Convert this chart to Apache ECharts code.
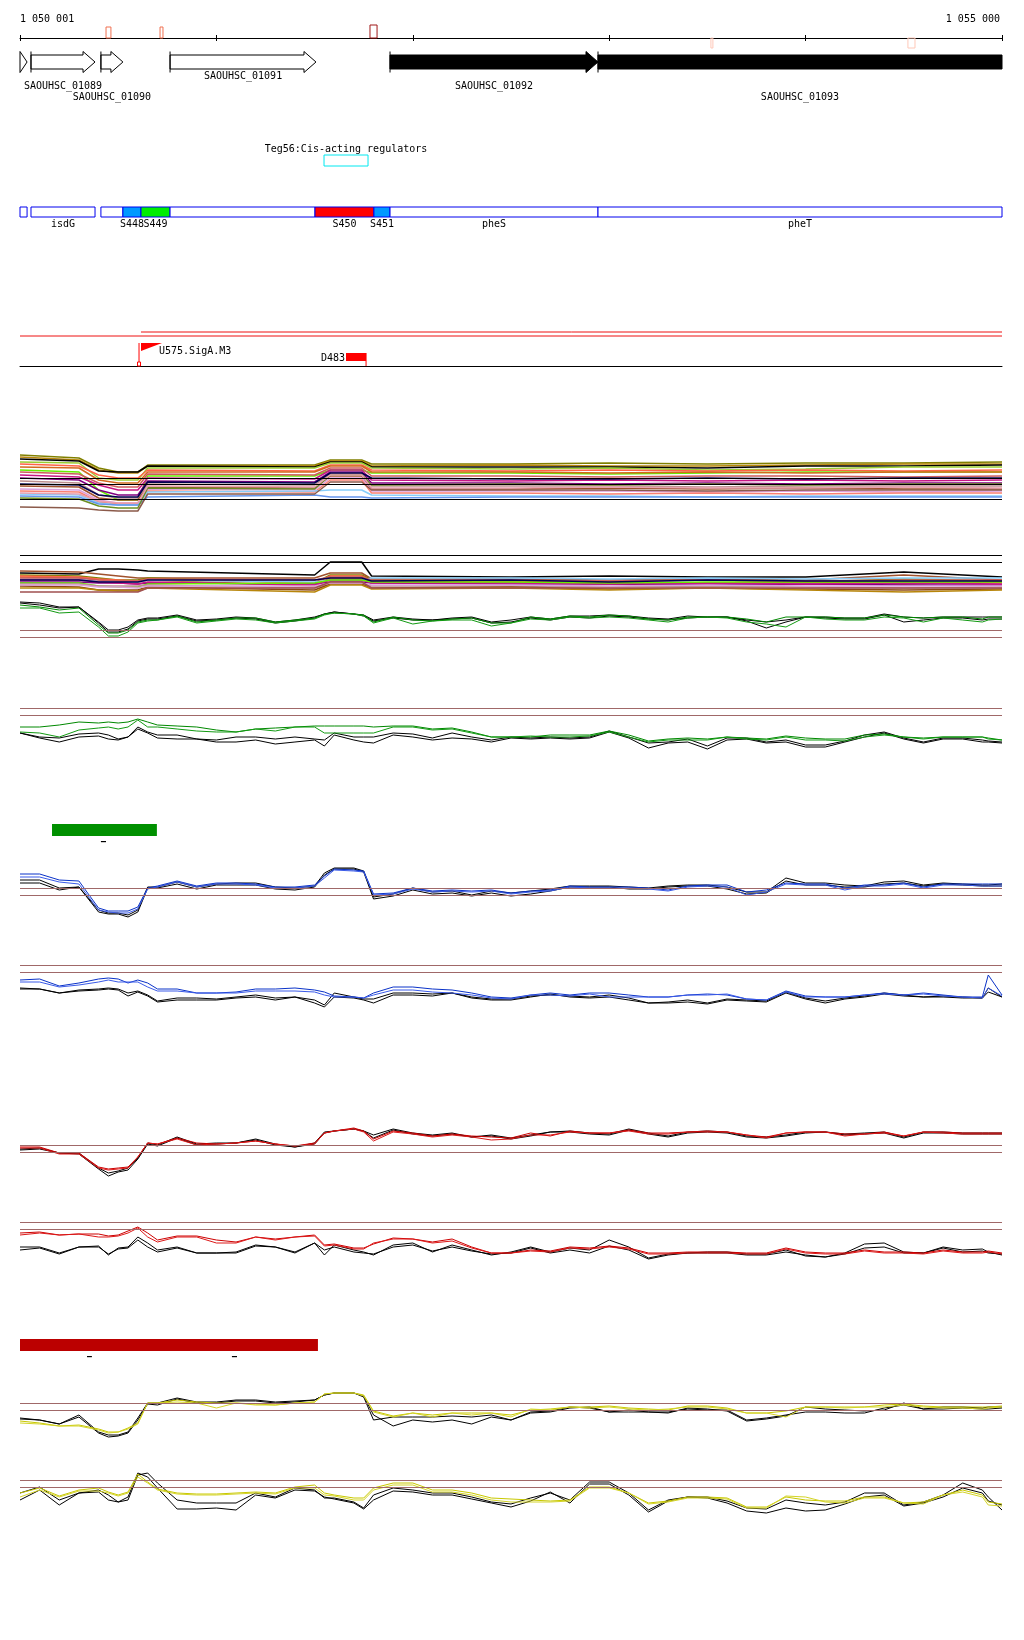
<!DOCTYPE html>
<html><head><meta charset="utf-8">
<script src="https://cdn.jsdelivr.net/npm/echarts/dist/echarts.min.js"></script>
<style>html,body{margin:0;padding:0;background:#fff}#c{width:1024px;height:1640px}</style>
</head><body><div id="c"></div>
<script>
// ---------------- DATA ----------------
const X_MIN = 1050000, X_MAX = 1055000, TICK_STEP = 1000;
const rulerLabels = ['1 050 001', '1 055 000'];

// marks on the ruler
const markStart  = [1050438, 1050713, 1051782, 1053518, 1054521];
const markEnd    = [1050463, 1050728, 1051818, 1053528, 1054557];
const markHeight = [1.1, 1.1, 1.3, -1.0, -1.0];
const markColor  = ['#f07050', '#f07050', '#a01818', '#ffc8b8', '#ffc8b8'];

// genes
const geneName   = ['', 'SAOUHSC_01089', 'SAOUHSC_01090', 'SAOUHSC_01091', 'SAOUHSC_01092', 'SAOUHSC_01093'];
const geneStart  = [1049950, 1050056, 1050412, 1050764, 1051884, 1052943];
const geneEnd    = [1050036, 1050382, 1050524, 1051507, 1052943, 1055600];
const geneFilled = [false, false, false, false, true, true];
const geneLabelRow = [0, 1, 2, 0, 1, 2];

// regulator
const regName  = ['Teg56:Cis-acting regulators'];
const regStart = [1051548];
const regEnd   = [1051772];

// features
const featStart = [1050000,1050056,1050412,1050524,1050616,1050764,1051502,1051802,1051884,1052943];
const featEnd   = [1050036,1050382,1050524,1050616,1050764,1051502,1051802,1051884,1052943,1055000];
const featLabel = ['','isdG','','S448','S449','','S450','S451','pheS','pheT'];
const featFill  = ['#ffffff','#ffffff','#ffffff','#0099ff','#00ee00','#ffffff','#ff0000','#0099ff','#ffffff','#ffffff'];

// transcription units, promoter, terminator
const tuStart = [1050616, 1050000];
const tuEnd   = [1055000, 1055000];
const tuLevel = [34, 30];
const promName = ['U575.SigA.M3'];
const promPos  = [1050606];
const promHeight = [23];
const termName  = ['D483'];
const termStart = [1051660];
const termEnd   = [1051762];
const termLow   = [5];
const termHigh  = [13];

// condition bars
const greenBarStart = [1050163], greenBarEnd = [1050697];
const greenDashStart = [1050412], greenDashEnd = [1050438];
const redBarStart = [1050000], redBarEnd = [1051517];
const redDashStart = [1050341, 1051079], redDashEnd = [1050366, 1051105];

// sample positions for profiles
const posBp = [1050000,1050100,1050200,1050300,1050400,1050450,1050500,1050550,1050600,1050650,
  1050700,1050800,1050900,1051000,1051100,1051200,1051300,1051400,1051500,1051550,
  1051600,1051700,1051750,1051800,1051900,1052000,1052100,1052200,1052300,1052400,
  1052500,1052600,1052700,1052800,1052900,1053000,1053100,1053200,1053300,1053400,
  1053500,1053600,1053700,1053800,1053900,1054000,1054100,1054200,1054300,1054400,
  1054500,1054600,1054700,1054800,1054900,1054930,1055000];
const bundlePos = [1050000,1050300,1050400,1050500,1050600,1050650,1051500,1051580,1051740,1051790,
  1052500,1053000,1053500,1054000,1054500,1055000];

// track 1 : many conditions
const t1Values = [
 [65,62,52,48,48,55,55,60,60,56,56,57,56,57,57,58],
 [63,60,50,47,47,54,54,59,59,54,55,54,54,55,56,56],
 [61,59,49,48,48,54,53,58,58,53,53,53,52,54,54,55],
 [58,57,42,40,40,52,52,57,57,52,51,52,50,51,53,53],
 [50,48,30,20,20,44,44,50,50,47,47,46,47,48,48,48],
 [56,54,45,42,42,50,49,55,55,50,49,50,49,50,49,50],
 [53,52,40,37,37,48,48,54,54,48,48,47,48,47,48,48],
 [48,46,37,33,33,46,45,52,52,44,44,43,44,44,43,44],
 [45,43,35,30,30,42,41,50,50,40,39,40,39,40,39,40],
 [42,40,30,25,25,39,38,48,48,37,37,36,37,36,37,37],
 [39,37,25,22,22,36,35,46,46,34,34,34,33,34,34,34],
 [34,33,22,20,20,33,32,44,44,31,31,32,31,32,31,31],
 [31,30,20,17,17,31,30,42,42,29,29,29,28,29,28,29],
 [29,28,18,16,16,29,28,40,40,27,27,26,27,26,27,27],
 [26,25,17,15,15,28,29,30,30,25,24,24,23,24,24,24],
 [24,23,16,15,15,23,25,23,23,22,23,23,23,23,23,23],
 [22,21,14,12,12,32,31,45,45,35,36,35,36,35,36,36],
 [13,12,10,9,9,26,26,38,38,30,30,30,29,30,30,30],
 [36,35,25,23,23,38,37,47,47,42,41,41,42,41,42,42],
 [27,26,19,17,17,34,33,45,45,32,32,33,32,32,33,32]];
const t1Colors = ['#808000','#b8860b','#000000','#9acd32','#66ee00','#ff6347','#d2691e','#cd5c5c','#c71585','#800080',
  '#bc8f8f','#a0522d','#dda0dd','#fa8072','#87cefa','#6495ed','#6b8e23','#8b5a4a','#000050','#e8a0b0'];
const t1Refs = [42, 36, 21];

// track 2a : many conditions
const t2aValues = [
 [27,26,31,31,30,29,25,38,38,24,23,24,23,23,28,23],
 [29,28,26,24,22,22,22,27,27,21,21,20,21,20,25,20],
 [25,24,22,20,20,22,17,25,25,20,19,16,17,18,21,19],
 [23,22,20,19,18,20,14,22,22,18,18,17,16,18,16,18],
 [24,23,21,20,19,21,17,24,24,19,18,18,17,19,18,17],
 [21,21,19,18,18,20,18,20,20,22,22,21,22,21,22,22],
 [18,18,17,17,16,17,16,18,18,17,16,16,15,16,15,15],
 [20,20,18,17,16,18,15,20,20,17,17,16,17,16,17,16],
 [17,17,14,13,13,16,17,20,20,18,18,17,18,18,18,18],
 [16,16,14,14,14,15,12,17,17,14,14,13,14,13,12,13],
 [14,13,10,10,10,13,10,16,16,12,13,11,12,11,10,11],
 [12,12,10,9,9,12,8,15,15,11,12,10,12,10,8,10],
 [22,22,20,19,19,21,20,23,23,20,20,19,20,19,20,20],
 [20,20,18,18,18,20,20,22,22,19,20,18,20,19,19,19],
 [15,15,13,13,12,14,14,17,17,15,15,14,15,14,14,14],
 [8,8,8,8,8,12,12,18,18,12,12,12,12,12,12,12]];
const t2aColors = ['#000000','#a0522d','#808000','#d2691e','#ff6347','#87cefa','#800080','#c71585','#66ee00','#bc8f8f',
  '#8b4513','#b8860b','#cd5c5c','#000050','#dda0dd','#a05050'];
const t2aRefs = [45, 38];

// track 2b (green)
const t2Black1 = [48,47,43,43,28,20,20,23,30,32,32,35,30,31,33,32,28,30,33,36,38,36,35,30,33,31,30,32,33,28,30,33,31,34,34,35,34,32,31,34,33,33,30,28,30,33,33,32,32,36,33,32,33,33,33,33,33];
const t2Black2 = [47,45,42,43,27,18,18,21,29,31,31,34,29,30,32,31,27,29,32,36,38,36,34,29,32,30,30,31,32,27,28,32,30,33,32,34,33,31,30,32,33,33,29,22,28,33,32,31,31,35,28,30,32,32,30,31,31];
const t2Green1 = [45,43,40,42,25,17,17,20,28,30,30,34,28,30,32,32,28,30,32,36,37,36,35,28,33,30,29,31,32,27,27,33,31,34,33,35,34,31,30,33,33,33,31,28,33,33,33,32,32,35,33,32,33,33,31,33,33];
const t2Green2 = [42,42,37,38,23,14,14,18,27,29,30,33,27,29,31,30,27,29,31,35,37,36,34,27,32,26,29,30,30,24,27,31,30,33,32,33,32,30,28,32,33,32,28,26,23,33,31,30,30,33,32,28,32,30,28,30,31];
const t2bRefs = [20, 13];

// track 3 (green)
const t3Black1 = [27,23,22,26,27,25,21,23,33,28,25,25,21,20,23,23,21,23,21,20,27,23,23,23,27,26,22,27,23,20,23,22,23,22,23,29,23,17,18,21,14,22,22,18,20,15,15,19,25,28,22,18,22,22,20,19,18];
const t3Black2 = [27,22,18,23,24,21,20,23,31,27,22,21,21,18,18,20,16,18,20,14,25,20,18,17,25,23,20,22,21,18,22,21,22,21,22,28,22,12,17,18,11,20,21,17,18,13,13,18,23,27,21,17,21,21,18,18,17];
const t3Green1 = [33,33,35,38,37,38,37,38,41,38,35,34,33,30,28,31,32,33,34,34,34,34,34,33,34,34,31,32,28,23,23,23,25,25,25,29,25,19,21,22,21,23,22,21,24,22,21,21,25,26,23,22,23,23,23,22,20];
const t3Green2 = [28,27,23,30,32,33,31,33,40,33,33,31,29,28,28,31,29,33,33,27,27,27,27,27,33,33,30,31,27,23,23,24,23,23,24,28,23,18,20,20,20,23,21,20,23,20,20,19,23,25,23,21,23,23,23,21,20];
const t3Refs = [52, 45];

// track 4 (blue)
const t4Black1 = [50,50,42,43,20,17,17,15,20,43,43,48,43,46,47,47,43,42,44,57,62,62,59,33,36,42,38,39,35,39,37,39,41,44,44,44,43,42,44,45,45,43,38,38,52,47,47,45,44,48,49,45,47,46,45,45,46];
const t4Black2 = [47,47,40,43,18,16,16,13,18,42,42,46,41,45,45,45,41,40,43,55,61,61,58,31,34,40,36,37,34,37,34,36,39,43,43,43,41,41,43,44,44,41,36,37,49,45,45,43,43,46,47,44,46,45,44,44,44];
const t4Blue1 = [56,56,50,49,22,19,19,19,23,42,44,49,44,47,47,46,43,43,45,54,61,60,59,36,37,42,39,40,39,40,37,39,40,44,43,43,43,42,40,44,45,45,38,40,47,46,46,42,45,45,47,43,46,46,46,46,46];
const t4Blue2 = [53,53,48,46,20,18,17,17,21,41,43,48,43,46,46,45,42,42,44,52,60,59,58,35,36,41,38,39,38,39,36,38,39,43,42,42,42,41,39,43,44,43,35,38,46,45,45,40,44,44,46,42,45,45,44,44,44];
const t4Refs = [42, 35];

// track 5 (blue)
const t5Black1 = [32,31,27,30,31,32,31,27,29,25,19,22,22,21,23,25,22,23,20,15,27,23,21,21,27,27,26,27,23,21,21,24,25,24,23,25,22,17,18,20,17,21,20,19,28,22,19,22,24,27,25,23,24,23,22,32,23];
const t5Black2 = [31,31,27,29,30,31,30,24,28,24,18,20,20,20,22,23,20,23,17,13,23,22,20,17,25,25,24,27,22,20,20,23,26,23,22,23,20,17,17,18,16,20,19,18,27,21,17,21,23,26,24,23,23,22,22,28,23];
const t5Blue1 = [40,41,34,37,41,42,41,37,40,37,31,31,27,27,28,31,31,32,30,28,24,23,22,27,33,33,31,30,27,23,22,25,27,25,27,27,25,23,23,25,26,25,21,20,29,24,23,23,25,27,25,27,25,23,23,45,25];
const t5Blue2 = [38,38,33,35,38,40,38,38,38,33,29,29,27,27,27,29,29,29,28,25,23,23,22,25,30,30,28,27,25,22,21,25,25,24,26,23,23,23,23,25,25,26,21,20,28,23,23,23,25,26,25,26,24,23,22,32,24];
const t5Refs = [55, 48];

// track 6 (red)
const t6Black1 = [41,42,37,37,22,17,19,22,32,47,45,53,46,47,47,51,46,43,47,58,59,61,59,55,61,57,55,57,53,55,52,55,58,59,57,56,61,57,54,58,59,58,54,53,55,58,58,56,57,58,53,58,58,57,57,57,57];
const t6Black2 = [40,41,37,36,21,14,18,20,31,46,44,52,45,46,47,50,45,43,46,57,59,61,59,52,60,56,54,56,53,54,51,54,58,58,56,55,60,56,53,57,58,57,53,52,54,57,58,55,56,57,52,57,57,56,56,56,56];
const t6Red1 = [43,43,37,37,23,21,22,23,33,47,46,52,47,46,47,49,46,44,47,57,59,62,59,51,59,57,54,56,54,53,52,57,54,59,57,57,60,57,57,58,59,58,55,53,57,58,58,56,56,58,54,58,58,57,57,57,57];
const t6Red2 = [42,42,36,36,22,20,21,22,33,47,46,51,45,46,47,49,46,44,46,57,59,61,58,49,58,56,53,55,53,50,51,55,55,58,57,57,59,56,56,58,58,58,55,52,57,58,58,54,56,57,54,58,57,56,56,56,56];
const t6Refs = [45, 38];

// track 7 (red)
const t7Black1 = [23,23,17,23,24,15,22,23,33,27,20,23,17,17,18,25,23,18,27,15,25,20,18,15,25,27,18,25,20,15,18,23,18,22,20,30,23,12,16,17,18,18,16,16,20,14,13,17,26,27,18,17,23,20,21,18,15];
const t7Black2 = [20,22,16,23,23,16,21,22,30,23,18,22,17,17,17,24,23,17,27,20,23,18,17,16,23,25,19,23,19,16,17,22,17,20,17,24,20,11,15,17,17,17,15,15,18,15,13,16,22,23,17,17,22,18,19,17,16];
const t7Red1 = [37,38,35,36,36,34,35,39,43,37,30,34,34,30,28,33,31,33,35,25,26,22,22,26,32,31,28,31,23,17,17,20,19,23,22,24,22,17,17,18,18,18,17,17,22,18,17,17,20,18,18,17,20,18,18,19,17];
const t7Red2 = [35,37,35,36,33,33,34,37,42,33,28,33,33,27,27,33,30,33,34,24,25,21,21,27,31,31,27,29,22,17,17,19,18,22,21,23,21,16,16,17,17,17,16,16,21,17,16,16,19,17,17,16,19,17,17,18,16];
const t7Refs = [48, 41];

// track 8 (yellow)
const t8Black1 = [32,30,26,35,18,15,15,18,32,47,47,52,48,48,50,50,48,49,50,55,57,57,54,35,24,30,28,30,26,33,30,38,39,43,42,38,40,38,38,41,40,40,30,32,35,38,38,37,37,42,45,41,41,42,41,41,42];
const t8Black2 = [31,30,26,33,17,13,14,17,30,46,45,51,47,47,49,49,47,48,50,55,57,57,53,30,33,33,33,34,33,35,30,37,38,42,43,38,38,38,37,42,41,39,29,31,34,43,41,40,39,40,47,41,43,43,42,43,43];
const t8Yellow1 = [29,27,24,25,21,18,18,22,27,47,47,50,48,47,47,46,45,47,48,56,57,57,55,39,34,37,35,37,37,37,35,40,41,43,43,44,42,41,40,44,44,42,37,37,39,43,43,43,43,45,46,44,43,43,43,43,44];
const t8Yellow2 = [27,26,24,24,20,17,18,21,26,47,47,48,47,42,47,45,45,47,48,56,57,57,54,38,33,37,33,37,35,37,33,41,40,43,42,43,41,40,41,43,43,41,37,37,33,43,43,42,43,43,45,43,42,42,41,42,43];
const t8Refs = [47, 40];

// track 9 (yellow)
const t9Black1 = [37,43,30,37,40,35,28,30,55,57,47,30,27,27,27,37,33,42,40,32,32,28,22,35,42,40,37,37,33,28,26,32,37,30,48,48,37,20,30,33,33,29,22,21,30,27,25,28,37,37,25,28,35,47,40,33,20];
const t9Black2 = [30,40,25,37,38,30,28,33,57,53,42,21,21,22,20,35,32,40,39,33,31,27,21,30,39,38,35,35,31,27,23,29,38,27,46,46,35,18,29,33,32,27,19,17,22,19,20,26,33,35,24,27,33,42,37,29,25];
const t9Yellow1 = [37,42,34,40,42,38,35,38,56,48,41,37,36,36,37,38,37,43,45,37,35,32,32,42,47,47,40,40,37,32,31,30,29,30,43,43,37,27,29,33,33,32,23,23,33,30,29,29,33,33,27,28,35,40,35,28,26];
const t9Yellow2 = [33,40,33,39,39,37,34,37,53,47,40,36,35,35,36,37,36,42,42,35,34,30,30,40,45,45,38,38,35,30,28,28,28,29,42,42,37,26,28,32,32,31,22,22,34,33,28,27,32,32,27,26,35,38,33,25,24];
const t9Refs = [50, 43];

// ---------------- LAYOUT / STYLE ----------------
const FONT = '10px "DejaVu Sans Mono", monospace';
const L = 20, W = 982, SPAN = 80;
const GENE_Y = 62, HEAD_LEN = 12, LABEL_ROW_Y = [76, 86, 97];
const REG_Y = 155, REG_H = 11, REG_LABEL_Y = 149;
const FEAT_Y = 207, FEAT_H = 10, FEAT_LABEL_Y = 224;
const BROWN = '#a06868';
const BLACK = '#000000';

const grids = [], xAxes = [], yAxes = [], series = [];
function addGrid(top, height, ymin, ymax, xExtra) {
  const gi = grids.length;
  grids.push({left: L, top: top, width: W, height: height});
  xAxes.push(Object.assign({gridIndex: gi, type: 'value', min: X_MIN, max: X_MAX, show: false}, xExtra || {}));
  yAxes.push({gridIndex: gi, type: 'value', min: ymin, max: ymax, show: false});
  return gi;
}
function refLines(values, color) {
  return {silent: true, symbol: ['none', 'none'], label: {show: false}, emphasis: {disabled: true},
    lineStyle: {color: color, width: 1, type: 'solid'}, data: values.map(v => ({yAxis: v})), animation: false};
}
function addTrack(bottom, xs, lines, colors, refs, refColor, lw) {
  const gi = addGrid(bottom - SPAN, SPAN, 0, SPAN);
  lines.forEach((arr, k) => {
    const s = {type: 'line', xAxisIndex: gi, yAxisIndex: gi, data: xs.map((x, j) => [x, arr[j]]),
      symbol: 'none', showSymbol: false, silent: true, animation: false,
      lineStyle: {color: colors[k], width: lw || 1}, z: 2};
    if (k === 0) s.markLine = refLines(refs, refColor);
    series.push(s);
  });
}

// ---- ruler grid ----
const rulerAxis = {show: true, position: 'bottom', interval: TICK_STEP,
  axisLine: {show: true, onZero: false, lineStyle: {color: BLACK, width: 1}},
  axisTick: {show: true, length: 3, inside: false, lineStyle: {color: BLACK, width: 1}},
  axisLabel: {show: false}, splitLine: {show: false}};
const g0 = addGrid(18, 20, 0, 2, rulerAxis);

// ruler marks
series.push({type: 'custom', xAxisIndex: g0, yAxisIndex: g0, z: 5, silent: true, animation: false,
  data: markStart.map((s, i) => [s, markEnd[i], markHeight[i]]),
  renderItem: function (params, api) {
    const a = api.coord([api.value(0), 0]), b = api.coord([api.value(1), api.value(2)]);
    return {type: 'rect', shape: {x: Math.min(a[0], b[0]), y: Math.min(a[1], b[1]), width: Math.abs(b[0] - a[0]), height: Math.abs(b[1] - a[1])},
      style: {fill: 'none', stroke: markColor[params.dataIndex], lineWidth: 1}};
  }});

// genes
series.push({type: 'custom', xAxisIndex: g0, yAxisIndex: g0, z: 5, silent: true, animation: false,
  data: geneStart.map((s, i) => [s, geneEnd[i]]),
  renderItem: function (params, api) {
    const i = params.dataIndex;
    const s = api.value(0), e = api.value(1);
    const x0 = api.coord([Math.max(s, X_MIN), 0])[0];
    const x1 = api.coord([Math.min(e, X_MAX), 0])[0];
    const cutL = s < X_MIN, cutR = e > X_MAX;
    const yc = GENE_Y, hb = 7, hh = 10.5;
    const head = cutR ? 0 : Math.min(HEAD_LEN, x1 - x0);
    const hs = x1 - head;
    let pts;
    if (head > 0 && hs <= x0 + 0.5) pts = [[x0, yc - hh], [x1, yc], [x0, yc + hh]];
    else if (head === 0) pts = [[x0, yc - hb], [x1, yc - hb], [x1, yc + hb], [x0, yc + hb]];
    else pts = [[x0, yc - hb], [hs, yc - hb], [hs, yc - hh], [x1, yc], [hs, yc + hh], [hs, yc + hb], [x0, yc + hb]];
    const filled = geneFilled[i];
    const ch = [{type: 'polygon', shape: {points: pts}, style: {fill: filled ? BLACK : '#ffffff', stroke: BLACK, lineWidth: 1}}];
    if (!cutL) ch.push({type: 'line', shape: {x1: x0, y1: yc - hh, x2: x0, y2: yc + hh}, style: {stroke: BLACK, lineWidth: 1}});
    if (geneName[i]) ch.push({type: 'text', style: {text: geneName[i], x: (x0 + x1) / 2, y: LABEL_ROW_Y[geneLabelRow[i]],
      font: FONT, fill: BLACK, align: 'center', verticalAlign: 'middle'}});
    return {type: 'group', children: ch};
  }});

// regulator
series.push({type: 'custom', xAxisIndex: g0, yAxisIndex: g0, z: 5, silent: true, animation: false,
  data: regStart.map((s, i) => [s, regEnd[i]]),
  renderItem: function (params, api) {
    const x0 = api.coord([api.value(0), 0])[0], x1 = api.coord([api.value(1), 0])[0];
    return {type: 'group', children: [
      {type: 'rect', shape: {x: x0, y: REG_Y, width: x1 - x0, height: REG_H}, style: {fill: 'none', stroke: '#00e8f0', lineWidth: 1}},
      {type: 'text', style: {text: regName[params.dataIndex], x: (x0 + x1) / 2, y: REG_LABEL_Y, font: FONT, fill: BLACK, align: 'center', verticalAlign: 'middle'}}
    ]};
  }});

// features
series.push({type: 'custom', xAxisIndex: g0, yAxisIndex: g0, z: 5, silent: true, animation: false,
  data: featStart.map((s, i) => [s, featEnd[i]]),
  renderItem: function (params, api) {
    const i = params.dataIndex;
    const x0 = api.coord([api.value(0), 0])[0], x1 = api.coord([api.value(1), 0])[0];
    const ch = [{type: 'rect', shape: {x: x0, y: FEAT_Y, width: x1 - x0, height: FEAT_H}, style: {fill: featFill[i], stroke: '#0000ee', lineWidth: 1}}];
    if (featLabel[i]) ch.push({type: 'text', style: {text: featLabel[i], x: (x0 + x1) / 2, y: FEAT_LABEL_Y, font: FONT, fill: BLACK, align: 'center', verticalAlign: 'middle'}});
    return {type: 'group', children: ch};
  }});

// ---- promoter / terminator lane ----
const gp = addGrid(320, 46, 0, 46, {show: true, position: 'bottom', axisLine: {show: true, onZero: false, lineStyle: {color: BLACK, width: 1}},
  axisTick: {show: false}, axisLabel: {show: false}, splitLine: {show: false}});
tuStart.forEach((s, i) => {
  series.push({type: 'line', xAxisIndex: gp, yAxisIndex: gp, data: [[s, tuLevel[i]], [tuEnd[i], tuLevel[i]]],
    symbol: 'none', silent: true, animation: false, lineStyle: {color: '#ee1111', width: 1}});
});
series.push({type: 'custom', xAxisIndex: gp, yAxisIndex: gp, z: 5, silent: true, animation: false,
  data: promPos.map((p, i) => [p, promHeight[i]]),
  renderItem: function (params, api) {
    const base = api.coord([api.value(0), 0]), top = api.coord([api.value(0), api.value(1)]);
    const x = base[0];
    return {type: 'group', children: [
      {type: 'line', shape: {x1: x, y1: base[1], x2: x, y2: top[1]}, style: {stroke: '#ff0000', lineWidth: 1}},
      {type: 'polygon', shape: {points: [[x + 2, top[1]], [x + 23, top[1]], [x + 2, top[1] + 8]]}, style: {fill: '#ff0000'}},
      {type: 'rect', shape: {x: x - 1.5, y: base[1] - 4, width: 3, height: 4}, style: {fill: '#ffffff', stroke: '#ff0000', lineWidth: 1}},
      {type: 'text', style: {text: promName[params.dataIndex], x: x + 20, y: top[1] + 8, font: FONT, fill: BLACK, align: 'left', verticalAlign: 'middle'}}
    ]};
  }});
series.push({type: 'custom', xAxisIndex: gp, yAxisIndex: gp, z: 5, silent: true, animation: false,
  data: termStart.map((s, i) => [s, termEnd[i], termLow[i], termHigh[i]]),
  renderItem: function (params, api) {
    const a = api.coord([api.value(0), api.value(3)]), b = api.coord([api.value(1), api.value(2)]);
    const base = api.coord([api.value(1), 0]);
    return {type: 'group', children: [
      {type: 'rect', shape: {x: a[0], y: a[1], width: b[0] - a[0], height: b[1] - a[1]}, style: {fill: '#ff0000'}},
      {type: 'line', shape: {x1: b[0], y1: a[1], x2: b[0], y2: base[1]}, style: {stroke: '#ff0000', lineWidth: 1}},
      {type: 'text', style: {text: termName[params.dataIndex], x: a[0] - 1, y: (a[1] + b[1]) / 2 + 1, font: FONT, fill: BLACK, align: 'right', verticalAlign: 'middle'}}
    ]};
  }});

// ---- condition bars ----
function addBar(top, starts, ends, color, dStarts, dEnds) {
  const gi = addGrid(top, 12, 0, 1);
  series.push({type: 'custom', xAxisIndex: gi, yAxisIndex: gi, silent: true, animation: false,
    data: starts.map((s, i) => [s, ends[i]]),
    renderItem: function (params, api) {
      const a = api.coord([api.value(0), 1]), b = api.coord([api.value(1), 0]);
      return {type: 'rect', shape: {x: a[0], y: a[1], width: b[0] - a[0], height: b[1] - a[1]}, style: {fill: color}};
    }});
  series.push({type: 'custom', xAxisIndex: gi, yAxisIndex: gi, silent: true, animation: false,
    data: dStarts.map((s, i) => [s, dEnds[i]]),
    renderItem: function (params, api) {
      const a = api.coord([api.value(0), 0]), b = api.coord([api.value(1), 0]);
      return {type: 'rect', shape: {x: a[0], y: a[1] + 5, width: b[0] - a[0], height: 1.2}, style: {fill: BLACK}};
    }});
}

// ---- tracks ----
addTrack(520, bundlePos, t1Values, t1Colors, t1Refs, BLACK, 1.5);
addTrack(600, bundlePos, t2aValues, t2aColors, t2aRefs, BLACK, 1.5);
addTrack(650, posBp, [t2Black1, t2Black2, t2Green1, t2Green2], [BLACK, BLACK, '#008800', '#129a12'], t2bRefs, BROWN);
addTrack(760, posBp, [t3Black1, t3Black2, t3Green1, t3Green2], [BLACK, BLACK, '#008800', '#129a12'], t3Refs, BROWN);
addBar(824, greenBarStart, greenBarEnd, '#009000', greenDashStart, greenDashEnd);
addTrack(930, posBp, [t4Black1, t4Black2, t4Blue1, t4Blue2], [BLACK, BLACK, '#0a32c8', '#3a5ae8'], t4Refs, BROWN);
addTrack(1020, posBp, [t5Black1, t5Black2, t5Blue1, t5Blue2], [BLACK, BLACK, '#0a32c8', '#3a5ae8'], t5Refs, BROWN);
addTrack(1190, posBp, [t6Black1, t6Black2, t6Red1, t6Red2], [BLACK, BLACK, '#cc0000', '#dd1818'], t6Refs, BROWN);
addTrack(1270, posBp, [t7Black1, t7Black2, t7Red1, t7Red2], [BLACK, BLACK, '#cc0000', '#dd1818'], t7Refs, BROWN);
addBar(1339, redBarStart, redBarEnd, '#bb0000', redDashStart, redDashEnd);
addTrack(1450, posBp, [t8Black1, t8Black2, t8Yellow1, t8Yellow2], [BLACK, BLACK, '#c8c800', '#d4d428'], t8Refs, BROWN);
addTrack(1530, posBp, [t9Black1, t9Black2, t9Yellow1, t9Yellow2], [BLACK, BLACK, '#c8c800', '#d4d428'], t9Refs, BROWN);

// second axis on the ruler grid for upward ticks (added last so indices stay aligned)
xAxes.push({gridIndex: g0, type: 'value', min: X_MIN, max: X_MAX, show: true, position: 'bottom', interval: TICK_STEP,
  axisLine: {show: false}, axisTick: {show: true, length: 3, inside: true, lineStyle: {color: BLACK, width: 1}},
  axisLabel: {show: false}, splitLine: {show: false}});

const chart = echarts.init(document.getElementById('c'), null, {renderer: 'canvas', width: 1024, height: 1640});
chart.setOption({
  animation: false,
  backgroundColor: '#ffffff',
  grid: grids, xAxis: xAxes, yAxis: yAxes, series: series,
  graphic: [
    {type: 'text', left: 20, top: 14, style: {text: rulerLabels[0], font: FONT, fill: BLACK}},
    {type: 'text', right: 24, top: 14, style: {text: rulerLabels[1], font: FONT, fill: BLACK}}
  ]
});
</script></body></html>
